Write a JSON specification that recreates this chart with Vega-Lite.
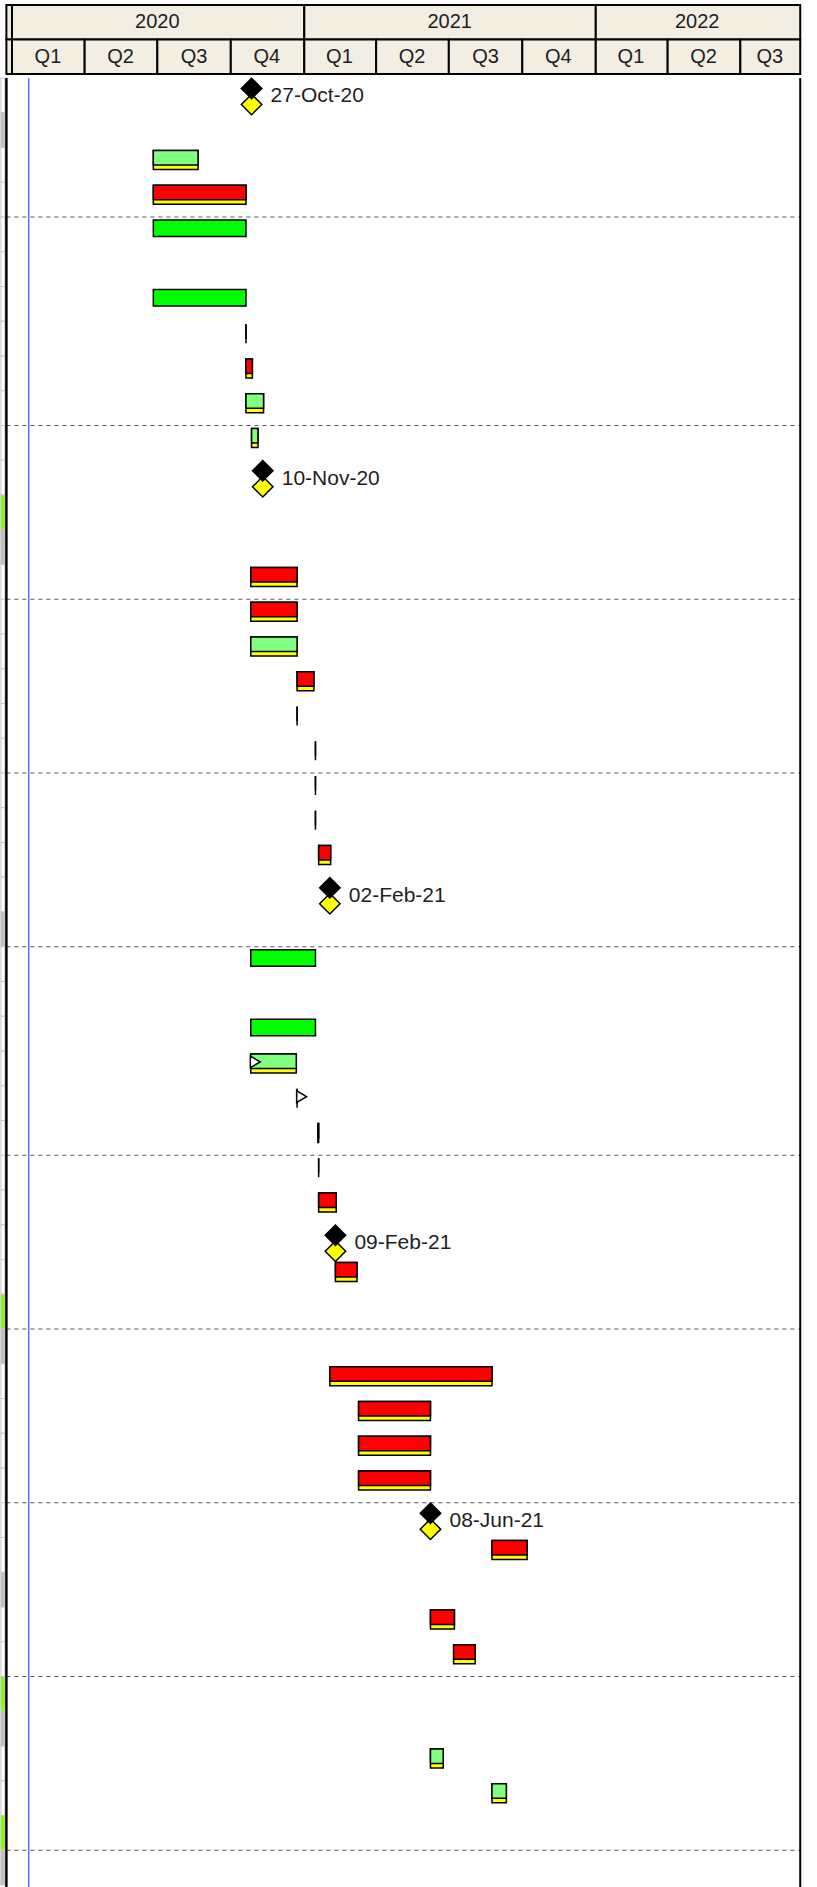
{
  "$schema": "https://vega.github.io/schema/vega-lite/v6.json",
  "padding": 0,
  "spacing": 0,
  "autosize": {"type": "pad"},
  "background": "white",
  "config": {"view": {"stroke": null}, "font": "Liberation Sans"},
  "datasets": {
    "one": [{"id": 1}],
    "hdr": [
      {"level": "year", "label": "", "start": "2019-12-25", "end": "2020-01-01", "mid": "2019-12-28"},
      {"level": "quarter", "label": "", "start": "2019-12-25", "end": "2020-01-01", "mid": "2019-12-28"},
      {"level": "year", "label": "2020", "start": "2020-01-01", "end": "2021-01-01", "mid": "2020-07-01"},
      {"level": "year", "label": "2021", "start": "2021-01-01", "end": "2022-01-01", "mid": "2021-07-02"},
      {"level": "year", "label": "2022", "start": "2022-01-01", "end": "2022-09-14", "mid": "2022-05-08"},
      {"level": "quarter", "label": "Q1", "start": "2020-01-01", "end": "2020-04-01", "mid": "2020-02-15"},
      {"level": "quarter", "label": "Q2", "start": "2020-04-01", "end": "2020-07-01", "mid": "2020-05-16"},
      {"level": "quarter", "label": "Q3", "start": "2020-07-01", "end": "2020-10-01", "mid": "2020-08-16"},
      {"level": "quarter", "label": "Q4", "start": "2020-10-01", "end": "2021-01-01", "mid": "2020-11-15"},
      {"level": "quarter", "label": "Q1", "start": "2021-01-01", "end": "2021-04-01", "mid": "2021-02-14"},
      {"level": "quarter", "label": "Q2", "start": "2021-04-01", "end": "2021-07-01", "mid": "2021-05-16"},
      {"level": "quarter", "label": "Q3", "start": "2021-07-01", "end": "2021-10-01", "mid": "2021-08-16"},
      {"level": "quarter", "label": "Q4", "start": "2021-10-01", "end": "2022-01-01", "mid": "2021-11-15"},
      {"level": "quarter", "label": "Q1", "start": "2022-01-01", "end": "2022-04-01", "mid": "2022-02-14"},
      {"level": "quarter", "label": "Q2", "start": "2022-04-01", "end": "2022-07-01", "mid": "2022-05-16"},
      {"level": "quarter", "label": "Q3", "start": "2022-07-01", "end": "2022-09-14", "mid": "2022-08-07"}
    ],
    "rows": [
      {"row": 0, "cell": "cell_none"}, {"row": 1, "cell": "cell_grey"}, {"row": 2, "cell": "cell_none"}, {"row": 3, "cell": "cell_none"},
      {"row": 4, "cell": "cell_none"}, {"row": 5, "cell": "cell_none"}, {"row": 6, "cell": "cell_none"}, {"row": 7, "cell": "cell_none"},
      {"row": 8, "cell": "cell_none"}, {"row": 9, "cell": "cell_none"}, {"row": 10, "cell": "cell_none"}, {"row": 11, "cell": "cell_none"},
      {"row": 12, "cell": "cell_green"}, {"row": 13, "cell": "cell_grey"}, {"row": 14, "cell": "cell_none"}, {"row": 15, "cell": "cell_none"},
      {"row": 16, "cell": "cell_none"}, {"row": 17, "cell": "cell_none"}, {"row": 18, "cell": "cell_none"}, {"row": 19, "cell": "cell_none"},
      {"row": 20, "cell": "cell_none"}, {"row": 21, "cell": "cell_none"}, {"row": 22, "cell": "cell_none"}, {"row": 23, "cell": "cell_none"},
      {"row": 24, "cell": "cell_grey"}, {"row": 25, "cell": "cell_none"}, {"row": 26, "cell": "cell_none"}, {"row": 27, "cell": "cell_none"},
      {"row": 28, "cell": "cell_none"}, {"row": 29, "cell": "cell_none"}, {"row": 30, "cell": "cell_none"}, {"row": 31, "cell": "cell_none"},
      {"row": 32, "cell": "cell_none"}, {"row": 33, "cell": "cell_none"}, {"row": 34, "cell": "cell_none"}, {"row": 35, "cell": "cell_green"},
      {"row": 36, "cell": "cell_grey"}, {"row": 37, "cell": "cell_none"}, {"row": 38, "cell": "cell_none"}, {"row": 39, "cell": "cell_none"},
      {"row": 40, "cell": "cell_none"}, {"row": 41, "cell": "cell_none"}, {"row": 42, "cell": "cell_none"}, {"row": 43, "cell": "cell_grey"},
      {"row": 44, "cell": "cell_none"}, {"row": 45, "cell": "cell_none"}, {"row": 46, "cell": "cell_green"}, {"row": 47, "cell": "cell_grey"},
      {"row": 48, "cell": "cell_none"}, {"row": 49, "cell": "cell_none"}, {"row": 50, "cell": "cell_green"}, {"row": 51, "cell": "cell_grey"}
    ],
    "sight": [{"row": 4}, {"row": 10}, {"row": 15}, {"row": 20}, {"row": 25}, {"row": 31}, {"row": 36}, {"row": 41}, {"row": 46}, {"row": 51}],
    "tasks": [
      {"row": 2, "start": "2020-06-26", "end": "2020-08-21", "type": "lightgreen"},
      {"row": 3, "start": "2020-06-26", "end": "2020-10-20", "type": "red"},
      {"row": 4, "start": "2020-06-26", "end": "2020-10-20", "type": "green"},
      {"row": 6, "start": "2020-06-26", "end": "2020-10-20", "type": "green"},
      {"row": 7, "start": "2020-10-20", "end": "2020-10-20", "type": "zero"},
      {"row": 8, "start": "2020-10-20", "end": "2020-10-28", "type": "red"},
      {"row": 9, "start": "2020-10-20", "end": "2020-11-11", "type": "lightgreen"},
      {"row": 10, "start": "2020-10-27", "end": "2020-11-04", "type": "lightgreen"},
      {"row": 14, "start": "2020-10-26", "end": "2020-12-23", "type": "red"},
      {"row": 15, "start": "2020-10-26", "end": "2020-12-23", "type": "red"},
      {"row": 16, "start": "2020-10-26", "end": "2020-12-23", "type": "lightgreen"},
      {"row": 17, "start": "2020-12-23", "end": "2021-01-13", "type": "red"},
      {"row": 18, "start": "2020-12-23", "end": "2020-12-23", "type": "zero"},
      {"row": 19, "start": "2021-01-15", "end": "2021-01-15", "type": "zero"},
      {"row": 20, "start": "2021-01-15", "end": "2021-01-15", "type": "zero"},
      {"row": 21, "start": "2021-01-15", "end": "2021-01-15", "type": "zero"},
      {"row": 22, "start": "2021-01-19", "end": "2021-02-03", "type": "red"},
      {"row": 25, "start": "2020-10-26", "end": "2021-01-15", "type": "green"},
      {"row": 27, "start": "2020-10-26", "end": "2021-01-15", "type": "green"},
      {"row": 28, "start": "2020-10-26", "end": "2020-12-22", "type": "lightgreen"},
      {"row": 29, "start": "2020-12-23", "end": "2020-12-23", "type": "zero"},
      {"row": 30, "start": "2021-01-18", "end": "2021-01-19", "type": "zero"},
      {"row": 31, "start": "2021-01-19", "end": "2021-01-19", "type": "zero"},
      {"row": 32, "start": "2021-01-19", "end": "2021-02-10", "type": "red"},
      {"row": 34, "start": "2021-02-09", "end": "2021-03-08", "type": "red"},
      {"row": 37, "start": "2021-02-02", "end": "2021-08-24", "type": "red"},
      {"row": 38, "start": "2021-03-10", "end": "2021-06-08", "type": "red"},
      {"row": 39, "start": "2021-03-10", "end": "2021-06-08", "type": "red"},
      {"row": 40, "start": "2021-03-10", "end": "2021-06-08", "type": "red"},
      {"row": 42, "start": "2021-08-24", "end": "2021-10-07", "type": "red"},
      {"row": 44, "start": "2021-06-08", "end": "2021-07-08", "type": "red"},
      {"row": 45, "start": "2021-07-07", "end": "2021-08-03", "type": "red"},
      {"row": 48, "start": "2021-06-08", "end": "2021-06-24", "type": "lightgreen"},
      {"row": 49, "start": "2021-08-24", "end": "2021-09-11", "type": "lightgreen"}
    ],
    "milestones": [
      {"row": 0, "date": "2020-10-27", "label": "27-Oct-20"},
      {"row": 11, "date": "2020-11-10", "label": "10-Nov-20"},
      {"row": 23, "date": "2021-02-02", "label": "02-Feb-21"},
      {"row": 33, "date": "2021-02-09", "label": "09-Feb-21"},
      {"row": 41, "date": "2021-06-08", "label": "08-Jun-21"}
    ],
    "flags": [
      {"row": 28, "date": "2020-10-26"},
      {"row": 29, "date": "2020-12-23"}
    ]
  },
  "vconcat": [
    {
      "width": 817,
      "height": 74,
      "data": {"name": "hdr"},
      "layer": [
        {
          "mark": {"type": "bar", "fill": "#f2eee2", "stroke": "#000000", "strokeWidth": 2},
          "encoding": {
            "x": {"field": "start", "type": "temporal", "axis": null,
                  "scale": {"type": "utc", "domain": [{"year": 2019, "month": 12, "date": 17, "utc": true}, {"year": 2022, "month": 10, "date": 5, "utc": true}]}},
            "x2": {"field": "end"},
            "y": {"field": "level", "type": "ordinal", "axis": null,
                  "scale": {"type": "band", "domain": ["year", "quarter"], "range": [5, 74], "paddingInner": 0, "paddingOuter": 0}}
          }
        },
        {
          "mark": {"type": "text", "fontSize": 20, "font": "Liberation Sans", "color": "#1e1e1e", "baseline": "middle", "align": "center"},
          "encoding": {
            "x": {"field": "mid", "type": "temporal", "axis": null,
                  "scale": {"type": "utc", "domain": [{"year": 2019, "month": 12, "date": 17, "utc": true}, {"year": 2022, "month": 10, "date": 5, "utc": true}]}},
            "y": {"field": "level", "type": "ordinal", "axis": null,
                  "scale": {"type": "band", "domain": ["year", "quarter"], "range": [5, 74], "paddingInner": 0, "paddingOuter": 0}},
            "text": {"field": "label"}
          }
        }
      ]
    },
    {
      "width": 817,
      "height": 1813,
      "layer": [
        {
          "data": {"name": "rows"},
          "mark": {"type": "bar", "stroke": "#c8c8c8", "strokeWidth": 1},
          "encoding": {
            "x": {"datum": {"year": 2019, "month": 12, "date": 18, "utc": true}, "type": "temporal",
                  "scale": {"type": "utc", "domain": [{"year": 2019, "month": 12, "date": 17, "utc": true}, {"year": 2022, "month": 10, "date": 5, "utc": true}]}, "axis": null},
            "x2": {"datum": {"year": 2019, "month": 12, "date": 23, "utc": true}},
            "y": {"field": "row", "type": "ordinal", "axis": null,
                  "scale": {"type": "band", "domain": [0,1,2,3,4,5,6,7,8,9,10,11,12,13,14,15,16,17,18,19,20,21,22,23,24,25,26,27,28,29,30,31,32,33,34,35,36,37,38,39,40,41,42,43,44,45,46,47,48,49,50,51], "range": [0, 1807], "paddingInner": 0, "paddingOuter": 0}},
            "fill": {"field": "cell", "type": "nominal", "legend": null,
                     "scale": {"domain": ["red", "lightgreen", "green", "zero", "cell_grey", "cell_green", "cell_none"], "range": ["#ff0000", "#80ff80", "#00ff00", "#000000", "#c0c0c0", "#80ff00", "#ffffff"]}}
          }
        },
        {
          "data": {"name": "sight"},
          "mark": {"type": "rule", "color": "#555555", "strokeWidth": 1, "strokeDash": [4, 4]},
          "encoding": {
            "x": {"datum": {"year": 2019, "month": 12, "date": 25, "utc": true}, "type": "temporal",
                  "scale": {"type": "utc", "domain": [{"year": 2019, "month": 12, "date": 17, "utc": true}, {"year": 2022, "month": 10, "date": 5, "utc": true}]}, "axis": null},
            "x2": {"datum": {"year": 2022, "month": 9, "date": 14, "utc": true}},
            "y": {"field": "row", "type": "ordinal", "axis": null, "bandPosition": 0,
                  "scale": {"type": "band", "domain": [0,1,2,3,4,5,6,7,8,9,10,11,12,13,14,15,16,17,18,19,20,21,22,23,24,25,26,27,28,29,30,31,32,33,34,35,36,37,38,39,40,41,42,43,44,45,46,47,48,49,50,51], "range": [0, 1807], "paddingInner": 0, "paddingOuter": 0}}
          }
        },
        {
          "data": {"name": "one"},
          "mark": {"type": "rule", "color": "#6b6bff", "strokeWidth": 1.5},
          "encoding": {
            "x": {"datum": {"year": 2020, "month": 1, "date": 22, "utc": true}, "type": "temporal",
                  "scale": {"type": "utc", "domain": [{"year": 2019, "month": 12, "date": 17, "utc": true}, {"year": 2022, "month": 10, "date": 5, "utc": true}]}, "axis": null}
          }
        },
        {
          "data": {"name": "one"},
          "mark": {"type": "rule", "color": "#000000", "strokeWidth": 2.5},
          "encoding": {
            "x": {"datum": {"year": 2019, "month": 12, "date": 25, "utc": true}, "type": "temporal",
                  "scale": {"type": "utc", "domain": [{"year": 2019, "month": 12, "date": 17, "utc": true}, {"year": 2022, "month": 10, "date": 5, "utc": true}]}, "axis": null}
          }
        },
        {
          "data": {"name": "one"},
          "mark": {"type": "rule", "color": "#000000", "strokeWidth": 2},
          "encoding": {
            "x": {"datum": {"year": 2022, "month": 9, "date": 14, "utc": true}, "type": "temporal",
                  "scale": {"type": "utc", "domain": [{"year": 2019, "month": 12, "date": 17, "utc": true}, {"year": 2022, "month": 10, "date": 5, "utc": true}]}, "axis": null}
          }
        },
        {
          "data": {"name": "tasks"},
          "transform": [{"filter": "datum.type != 'green'"}],
          "mark": {"type": "bar", "height": 19, "yOffset": -4.875, "fill": "#ffff00", "stroke": "#000000", "strokeWidth": 1.5},
          "encoding": {
            "x": {"field": "start", "type": "temporal", "axis": null,
                  "scale": {"type": "utc", "domain": [{"year": 2019, "month": 12, "date": 17, "utc": true}, {"year": 2022, "month": 10, "date": 5, "utc": true}]}},
            "x2": {"field": "end"},
            "y": {"field": "row", "type": "ordinal", "axis": null,
                  "scale": {"type": "band", "domain": [0,1,2,3,4,5,6,7,8,9,10,11,12,13,14,15,16,17,18,19,20,21,22,23,24,25,26,27,28,29,30,31,32,33,34,35,36,37,38,39,40,41,42,43,44,45,46,47,48,49,50,51], "range": [0, 1807], "paddingInner": 0, "paddingOuter": 0}}
          }
        },
        {
          "data": {"name": "tasks"},
          "transform": [{"filter": "datum.type != 'green'"}],
          "mark": {"type": "bar", "height": 14.5, "yOffset": -7.125, "stroke": "#000000", "strokeWidth": 1.5},
          "encoding": {
            "x": {"field": "start", "type": "temporal", "axis": null,
                  "scale": {"type": "utc", "domain": [{"year": 2019, "month": 12, "date": 17, "utc": true}, {"year": 2022, "month": 10, "date": 5, "utc": true}]}},
            "x2": {"field": "end"},
            "y": {"field": "row", "type": "ordinal", "axis": null,
                  "scale": {"type": "band", "domain": [0,1,2,3,4,5,6,7,8,9,10,11,12,13,14,15,16,17,18,19,20,21,22,23,24,25,26,27,28,29,30,31,32,33,34,35,36,37,38,39,40,41,42,43,44,45,46,47,48,49,50,51], "range": [0, 1807], "paddingInner": 0, "paddingOuter": 0}},
            "fill": {"field": "type", "type": "nominal", "legend": null,
                     "scale": {"domain": ["red", "lightgreen", "green", "zero", "cell_grey", "cell_green", "cell_none"], "range": ["#ff0000", "#80ff80", "#00ff00", "#000000", "#c0c0c0", "#80ff00", "#ffffff"]}}
          }
        },
        {
          "data": {"name": "tasks"},
          "transform": [{"filter": "datum.type == 'green'"}],
          "mark": {"type": "bar", "height": 16.5, "yOffset": -6.125, "stroke": "#000000", "strokeWidth": 1.5},
          "encoding": {
            "x": {"field": "start", "type": "temporal", "axis": null,
                  "scale": {"type": "utc", "domain": [{"year": 2019, "month": 12, "date": 17, "utc": true}, {"year": 2022, "month": 10, "date": 5, "utc": true}]}},
            "x2": {"field": "end"},
            "y": {"field": "row", "type": "ordinal", "axis": null,
                  "scale": {"type": "band", "domain": [0,1,2,3,4,5,6,7,8,9,10,11,12,13,14,15,16,17,18,19,20,21,22,23,24,25,26,27,28,29,30,31,32,33,34,35,36,37,38,39,40,41,42,43,44,45,46,47,48,49,50,51], "range": [0, 1807], "paddingInner": 0, "paddingOuter": 0}},
            "fill": {"field": "type", "type": "nominal", "legend": null,
                     "scale": {"domain": ["red", "lightgreen", "green", "zero", "cell_grey", "cell_green", "cell_none"], "range": ["#ff0000", "#80ff80", "#00ff00", "#000000", "#c0c0c0", "#80ff00", "#ffffff"]}}
          }
        },
        {
          "data": {"name": "flags"},
          "mark": {"type": "point", "shape": "triangle-right", "size": 130, "filled": true, "fill": "#ffffff", "stroke": "#000000", "strokeWidth": 1.5, "opacity": 1, "xOffset": 4.5, "yOffset": -6.5},
          "encoding": {
            "x": {"field": "date", "type": "temporal", "axis": null,
                  "scale": {"type": "utc", "domain": [{"year": 2019, "month": 12, "date": 17, "utc": true}, {"year": 2022, "month": 10, "date": 5, "utc": true}]}},
            "y": {"field": "row", "type": "ordinal", "axis": null,
                  "scale": {"type": "band", "domain": [0,1,2,3,4,5,6,7,8,9,10,11,12,13,14,15,16,17,18,19,20,21,22,23,24,25,26,27,28,29,30,31,32,33,34,35,36,37,38,39,40,41,42,43,44,45,46,47,48,49,50,51], "range": [0, 1807], "paddingInner": 0, "paddingOuter": 0}}
          }
        },
        {
          "data": {"name": "milestones"},
          "mark": {"type": "point", "shape": "diamond", "size": 420, "filled": true, "fill": "#ffff00", "stroke": "#000000", "strokeWidth": 1.5, "opacity": 1, "yOffset": 9.1},
          "encoding": {
            "x": {"field": "date", "type": "temporal", "axis": null,
                  "scale": {"type": "utc", "domain": [{"year": 2019, "month": 12, "date": 17, "utc": true}, {"year": 2022, "month": 10, "date": 5, "utc": true}]}},
            "y": {"field": "row", "type": "ordinal", "axis": null,
                  "scale": {"type": "band", "domain": [0,1,2,3,4,5,6,7,8,9,10,11,12,13,14,15,16,17,18,19,20,21,22,23,24,25,26,27,28,29,30,31,32,33,34,35,36,37,38,39,40,41,42,43,44,45,46,47,48,49,50,51], "range": [0, 1807], "paddingInner": 0, "paddingOuter": 0}}
          }
        },
        {
          "data": {"name": "milestones"},
          "mark": {"type": "point", "shape": "diamond", "size": 420, "filled": true, "fill": "#000000", "stroke": "#000000", "strokeWidth": 1.5, "opacity": 1, "yOffset": -6.9},
          "encoding": {
            "x": {"field": "date", "type": "temporal", "axis": null,
                  "scale": {"type": "utc", "domain": [{"year": 2019, "month": 12, "date": 17, "utc": true}, {"year": 2022, "month": 10, "date": 5, "utc": true}]}},
            "y": {"field": "row", "type": "ordinal", "axis": null,
                  "scale": {"type": "band", "domain": [0,1,2,3,4,5,6,7,8,9,10,11,12,13,14,15,16,17,18,19,20,21,22,23,24,25,26,27,28,29,30,31,32,33,34,35,36,37,38,39,40,41,42,43,44,45,46,47,48,49,50,51], "range": [0, 1807], "paddingInner": 0, "paddingOuter": 0}}
          }
        },
        {
          "data": {"name": "milestones"},
          "mark": {"type": "text", "fontSize": 21, "font": "Liberation Sans", "color": "#1e1e1e", "align": "left", "baseline": "middle", "dx": 19, "yOffset": 1.1},
          "encoding": {
            "x": {"field": "date", "type": "temporal", "axis": null,
                  "scale": {"type": "utc", "domain": [{"year": 2019, "month": 12, "date": 17, "utc": true}, {"year": 2022, "month": 10, "date": 5, "utc": true}]}},
            "y": {"field": "row", "type": "ordinal", "axis": null,
                  "scale": {"type": "band", "domain": [0,1,2,3,4,5,6,7,8,9,10,11,12,13,14,15,16,17,18,19,20,21,22,23,24,25,26,27,28,29,30,31,32,33,34,35,36,37,38,39,40,41,42,43,44,45,46,47,48,49,50,51], "range": [0, 1807], "paddingInner": 0, "paddingOuter": 0}},
            "text": {"field": "label"}
          }
        }
      ]
    }
  ]
}
